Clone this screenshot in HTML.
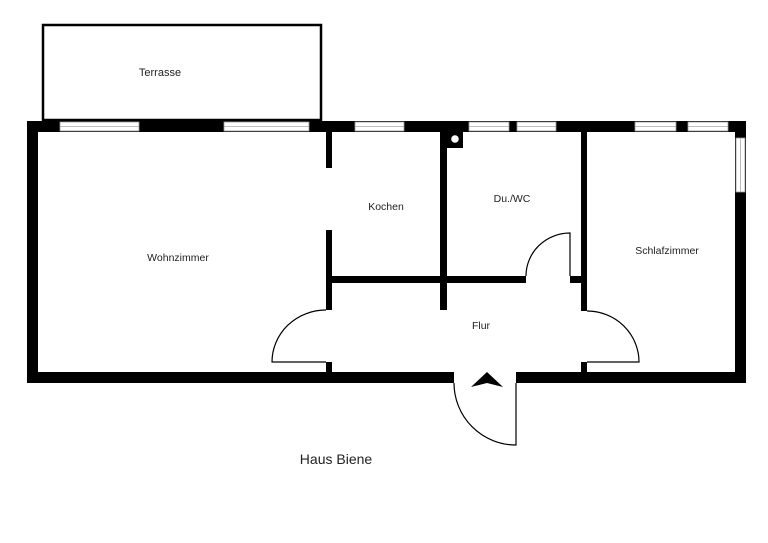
<!DOCTYPE html>
<html><head><meta charset="utf-8"><style>
html,body{margin:0;padding:0;background:#fff;}
svg{display:block;}
text{font-family:"Liberation Sans",sans-serif;fill:#222;}
</style></head><body>
<svg width="768" height="543" viewBox="0 0 768 543" xmlns="http://www.w3.org/2000/svg">
<defs>
<g id="wh"><rect x="0" y="0" width="1" height="11" fill="#fff"/></g>
</defs>
<!-- terrace -->
<rect x="43" y="25" width="278" height="95" fill="none" stroke="#000" stroke-width="2.5"/>
<!-- outer walls -->
<rect x="27" y="121" width="719" height="11" fill="#000"/>
<rect x="27" y="121" width="11" height="262" fill="#000"/>
<rect x="735" y="121" width="11" height="262" fill="#000"/>
<rect x="27" y="372" width="427" height="11" fill="#000"/>
<rect x="516" y="372" width="230" height="11" fill="#000"/>
<!-- top windows -->
<g fill="#fff" stroke="#999" stroke-width="0.8">
<rect x="60" y="122" width="79" height="9"/>
<rect x="224" y="122" width="85" height="9"/>
<rect x="355" y="122" width="49" height="9"/>
<rect x="469" y="122" width="40" height="9"/>
<rect x="517" y="122" width="39" height="9"/>
<rect x="635" y="122" width="41" height="9"/>
<rect x="688" y="122" width="40" height="9"/>
<rect x="736" y="138" width="9" height="54"/>
</g>
<g stroke="#aaa" stroke-width="0.8">
<path d="M60 126.5h79M224 126.5h85M355 126.5h49M469 126.5h40M517 126.5h39M635 126.5h41M688 126.5h40M740.5 138v54"/>
</g>
<!-- interior walls -->
<rect x="326" y="131" width="6" height="37" fill="#000"/>
<rect x="326" y="230" width="6" height="80" fill="#000"/>
<rect x="326" y="362" width="6" height="11" fill="#000"/>
<rect x="332" y="276" width="194" height="7" fill="#000"/>
<rect x="570" y="276" width="12" height="7" fill="#000"/>
<rect x="440" y="131" width="7" height="179" fill="#000"/>
<rect x="581" y="131" width="6" height="180" fill="#000"/>
<rect x="581" y="362" width="6" height="11" fill="#000"/>
<!-- chimney -->
<rect x="447" y="131" width="16" height="17" fill="#000"/>
<circle cx="455" cy="139" r="3.8" fill="#fff"/>
<!-- doors -->
<g fill="none" stroke="#000" stroke-width="1.2">
<path d="M326 362H272A54 52 0 0 1 326 310"/>
<path d="M570 276V233A44 43 0 0 0 526 276"/>
<path d="M587 362H639A52 51 0 0 0 587 311"/>
<path d="M516 383V445A62 62 0 0 1 454 383"/>
</g>
<!-- entrance arrow -->
<path d="M471 387L487 372L503 387L487 383Z" fill="#000"/>
<!-- labels -->
<text x="160" y="76" font-size="11" text-anchor="middle">Terrasse</text>
<text x="386" y="210" font-size="10.5" text-anchor="middle">Kochen</text>
<text x="178" y="261" font-size="10.5" text-anchor="middle">Wohnzimmer</text>
<text x="512" y="202" font-size="10.5" text-anchor="middle">Du./WC</text>
<text x="667" y="254" font-size="10.5" text-anchor="middle">Schlafzimmer</text>
<text x="481" y="329" font-size="10.5" text-anchor="middle">Flur</text>
<text x="336" y="464" font-size="14" text-anchor="middle">Haus Biene</text>
</svg>
</body></html>
